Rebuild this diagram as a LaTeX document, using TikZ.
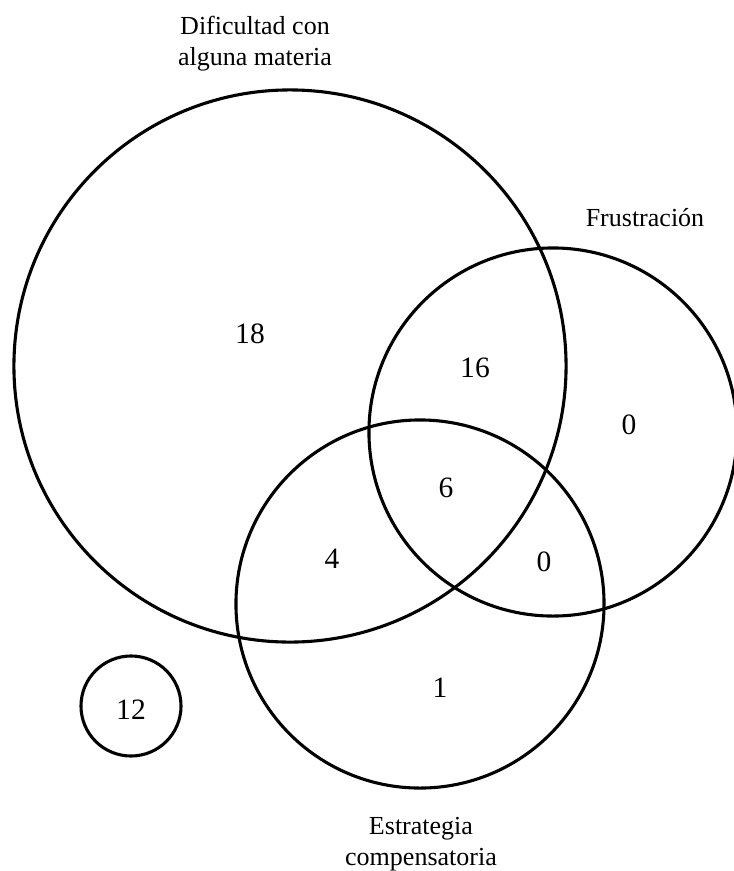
\documentclass[tikz,border=0pt]{standalone}
\usepackage{fontspec}
\setmainfont{Liberation Serif}
\begin{document}
\begin{tikzpicture}[
  x=0.025cm, y=-0.025cm,
  every node/.style={font=\fontsize{18.5}{22}\selectfont},
  set/.style={circle,draw,line width=2.2pt,inner sep=0pt},
  num/.style={inner sep=0pt,font=\fontsize{21}{25}\selectfont},
  title/.style={align=center,inner sep=0pt}
]
\useasboundingbox (0,0) rectangle (734,871);
% conjuntos
\node[set,minimum size=13.8cm] (dif) at (290,366) {};
\node[set,minimum size=9.2cm] (fru) at (553,432) {};
\node[set,minimum size=9.2cm] (est) at (420,604) {};
\node[set,minimum size=2.5cm] (ninguno) at (131,706) {};
% titulos
\node[title] (tdif) at (255,44) {Dificultad con\\alguna materia};
\node[title,anchor=base] (tfru) at (645,226) {Frustración};
\node[title] (test) at (421,844) {Estrategia\\compensatoria};
% valores
\node[num] (n18) at (250,334) {18};
\node[num] (n16) at (475,368) {16};
\node[num] (n0a) at (629,425) {0};
\node[num] (n6) at (446,488) {6};
\node[num] (n4) at (332,559) {4};
\node[num] (n0b) at (544,562) {0};
\node[num] (n1) at (440,688) {1};
\node[num] (n12) at (131,710) {12};
\end{tikzpicture}
\end{document}
